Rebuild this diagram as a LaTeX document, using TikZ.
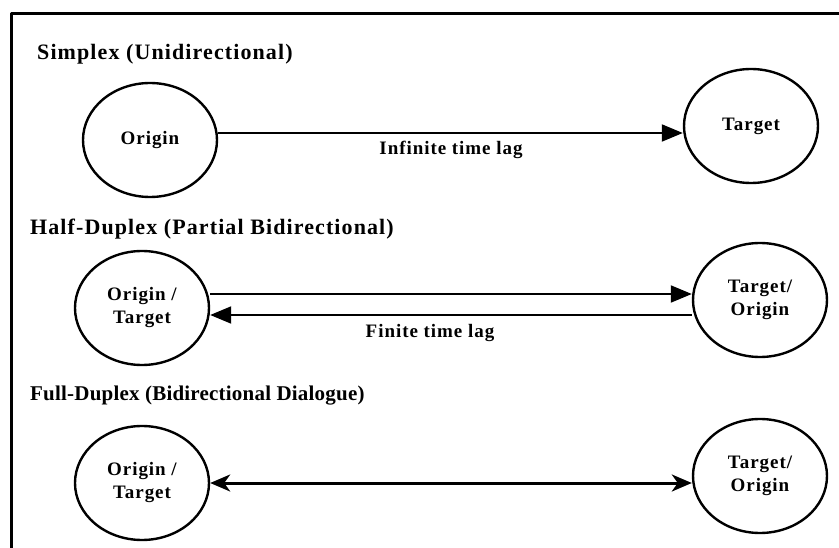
\documentclass[tikz,border=0pt]{standalone}
\usepackage{fontspec}
\setmainfont{Liberation Serif}
\newfontfamily\spacedfont[LetterSpace=5]{Liberation Serif}
\newfontfamily\tightfont[LetterSpace=1]{Liberation Serif}
\usetikzlibrary{arrows.meta,shapes.geometric}
\begin{document}
\begin{tikzpicture}[x=1pt, y=-1pt, line join=round,
    party node/.style={ellipse, draw, line width=2.4pt, minimum width=134pt, minimum height=114pt, inner sep=0pt, align=center, font=\spacedfont\bfseries\fontsize{19}{23}\selectfont},
    mode title/.style={anchor=base west, inner sep=0pt, font=\spacedfont\bfseries\fontsize{22}{26}\selectfont},
    lag label/.style={inner sep=0pt, font=\spacedfont\bfseries\fontsize{19}{23}\selectfont},
    one way/.style={line width=2pt, -{Triangle[length=21pt, width=17pt]}},
    two way/.style={line width=3pt, {Stealth[length=20pt, width=17pt, inset=6pt]}-{Stealth[length=20pt, width=17pt, inset=6pt]}}]
  \useasboundingbox (0,0) rectangle (839,548);
  % frame, cut off at the right and bottom
  \draw[line width=3pt] (11.5,548) -- (11.5,14) -- (839,14);

  % simplex
  \node[mode title] at (37,60) (tsimplex) {Simplex (Unidirectional)};
  \node[party node] at (150,140) (o1) {Origin};
  \node[party node] at (751,126) (t1) {Target};
  \coordinate (s1) at (0,133);
  \draw[one way] (o1.east |- s1) -- (t1.west |- s1);
  \node[lag label] at (451,150) (lag1) {Infinite time lag};

  % half duplex
  \node[mode title] at (30,235) (thalf) {Half-Duplex (Partial Bidirectional)};
  \node[party node] at (142,308) (o2) {Origin /\\Target};
  \node[party node] at (760,300) (t2) {Target/\\Origin};
  \coordinate (h1) at (0,294);
  \coordinate (h2) at (0,315);
  \draw[one way] (o2.east |- h1) -- (t2.west |- h1);
  \draw[one way] (t2.west |- h2) -- (o2.east |- h2);
  \node[lag label] at (430,333) (lag2) {Finite time lag};

  % full duplex
  \node[anchor=base west, inner sep=0pt, font=\tightfont\bfseries\fontsize{21}{25}\selectfont] at (30,401) (tfull) {Full-Duplex (Bidirectional Dialogue)};
  \node[party node] at (142,483) (o3) {Origin /\\Target};
  \node[party node] at (760,476) (t3) {Target/\\Origin};
  \draw[two way] (o3.east) -- (o3.east -| t3.west);
\end{tikzpicture}
\end{document}
